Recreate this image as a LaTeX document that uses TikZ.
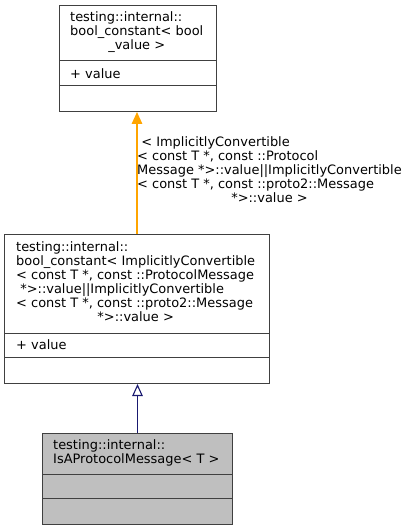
\documentclass[tikz,border=0pt]{standalone}
\usepackage{fontspec}
\setmainfont{DejaVu Sans}
\usetikzlibrary{arrows.meta}
\definecolor{boxgray}{HTML}{404040}
\definecolor{fillgray}{HTML}{BFBFBF}
\definecolor{edgeorange}{HTML}{FFA500}
\definecolor{edgenavy}{HTML}{191970}
\begin{document}
\begin{tikzpicture}[x=1bp,y=-1bp,
  box/.style={draw=boxgray, line width=1bp, inner sep=0pt, anchor=north west},
  sep/.style={draw=boxgray, line width=1bp},
  txt/.style={inner sep=0pt, font=\fontsize{13}{14}\selectfont, anchor=west},
  usearrow/.style={draw=edgeorange, line width=1.4bp, -{Triangle[length=12bp,width=10.5bp,fill=edgeorange]}},
  inhearrow/.style={draw=edgenavy, line width=1.1bp, -{Triangle[open,length=12bp,width=10.5bp,fill=white]}}]
\useasboundingbox (0,0) rectangle (411,531);
% top box
\node[box, minimum width=157bp, minimum height=106bp] (top) at (59,5) {};
\draw[sep] (59,61) -- (216,61);
\draw[sep] (59,86) -- (216,86);
\node[txt] (toptitle) at (70,33) {\begin{tabular}{@{}l@{}}testing::internal::\\bool\_constant< bool\\\multicolumn{1}{@{}c@{}}{\_value >}\end{tabular}};
\node[txt] (topattr) at (70,73.5) {+ value};
% middle box
\node[box, minimum width=265bp, minimum height=149bp] (mid) at (4,234) {};
\draw[sep] (4,333) -- (269,333);
\draw[sep] (4,357) -- (269,357);
\node[txt] (midtitle) at (16,283.5) {\begin{tabular}{@{}l@{}}testing::internal::\\bool\_constant< ImplicitlyConvertible\\< const T *, const ::ProtocolMessage\\\ *>::value||ImplicitlyConvertible\\< const T *, const ::proto2::Message\\\multicolumn{1}{@{}c@{}}{*>::value >}\end{tabular}};
\node[txt] (midattr) at (16,345) {+ value};
% bottom box
\node[box, fill=fillgray, minimum width=190bp, minimum height=91bp] (bot) at (42,433) {};
\draw[sep] (42,474) -- (232,474);
\draw[sep] (42,498) -- (232,498);
\node[txt] (bottitle) at (53,453.5) {\begin{tabular}{@{}l@{}}testing::internal::\\IsAProtocolMessage< T >\end{tabular}};
% edges
\draw[usearrow] (mid.north) -- (mid.north |- top.south);
\node[txt] (lbl) at (137,172) {\begin{tabular}{@{}l@{}}\ < ImplicitlyConvertible\\< const T *, const ::Protocol\\Message *>::value||ImplicitlyConvertible\\< const T *, const ::proto2::Message\\\multicolumn{1}{@{}c@{}}{*>::value >}\end{tabular}};
\draw[inhearrow] (bot.north) -- (bot.north |- mid.south);
\end{tikzpicture}
\end{document}
